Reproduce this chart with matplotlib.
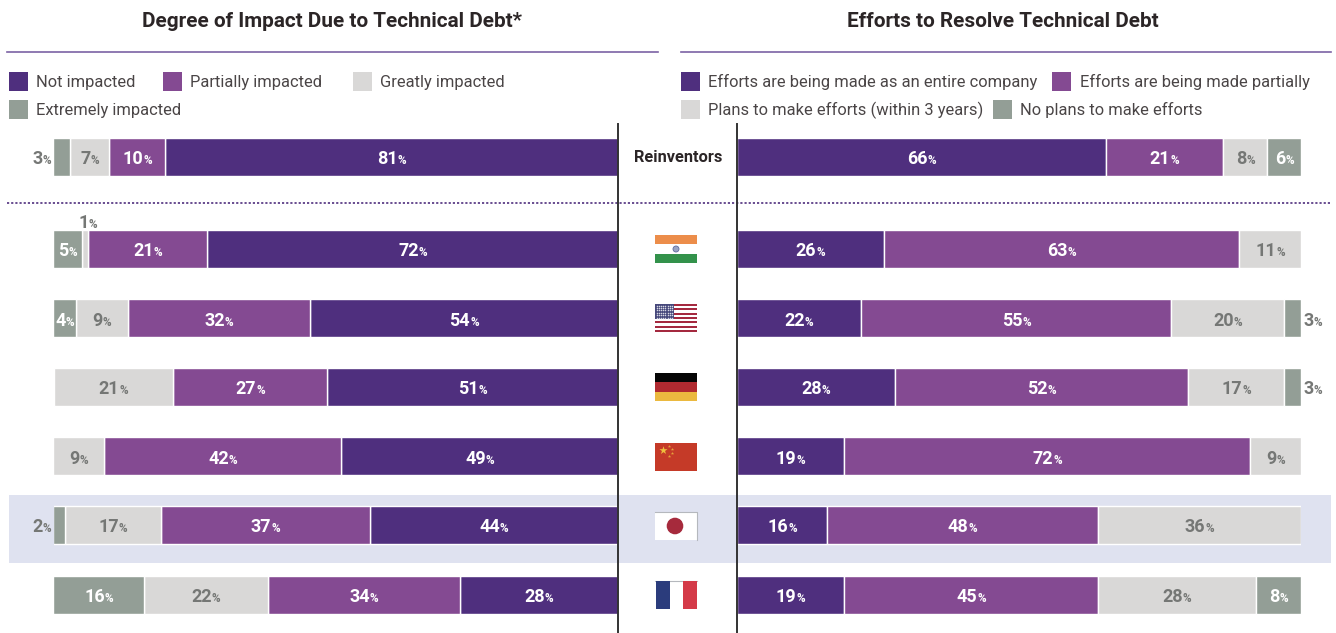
import numpy as np
import matplotlib
matplotlib.use('Agg')
import matplotlib.pyplot as plt
from matplotlib.patches import Rectangle, Circle

plt.rcParams['font.family'] = ['Roboto', 'DejaVu Sans']

W, H = 1336, 633

# Data
rows = ['Reinventors', 'India', 'USA', 'Germany', 'China', 'Japan', 'France']

impact_titles = ['Not impacted', 'Partially impacted', 'Greatly impacted', 'Extremely impacted']
not_impacted = [81, 72, 54, 51, 49, 44, 28]
partially_impacted = [10, 21, 32, 27, 42, 37, 34]
greatly_impacted = [7, 1, 9, 21, 9, 17, 22]
extremely_impacted = [3, 5, 4, 0, 0, 2, 16]

effort_titles = ['Efforts are being made as an entire company', 'Efforts are being made partially',
                 'Plans to make efforts (within 3 years)', 'No plans to make efforts']
efforts_company = [66, 26, 22, 28, 19, 16, 19]
efforts_partial = [21, 63, 55, 52, 72, 48, 45]
efforts_planned = [8, 11, 20, 17, 9, 36, 28]
efforts_none = [6, 0, 3, 3, 0, 0, 8]

# Styles and layout (pixels)
DARK, MID, LIGHT, SAGE = '#4f2f7e', '#844a92', '#d9d8d7', '#939e96'
colors = [DARK, MID, LIGHT, SAGE]
TEXT = '#2b2526'
GREY = '#757775'
RULE = '#7c62a4'
row_y = [157, 249, 318, 387, 456, 525, 595]
BAR_H = 38

fig = plt.figure(figsize=(W / 100, H / 100), dpi=100)
renderer = fig.canvas.get_renderer()

# pixel canvas for rules, legends and flags
bg = fig.add_axes([0, 0, 1, 1], zorder=0)
bg.set_xlim(0, W)
bg.set_ylim(H, 0)
bg.axis('off')

left = fig.add_axes([53.5 / W, 0, 564.5 / W, 1], zorder=1)
left.set_xlim(100, 0)
right = fig.add_axes([737 / W, 0, 564 / W, 1], zorder=1)
right.set_xlim(0, 100)
for ax in (left, right):
    ax.set_ylim(H, 0)
    ax.axis('off')


def pct_label(ax, x, y, value, color, anchor='center', dx=0, dy=0):
    # big number with a small % sign, sitting on one baseline
    num = ax.annotate(str(value), (x, y), xytext=(0, 0), textcoords='offset points',
                      fontsize=13, fontweight='bold', color=color, ha='left', va='baseline',
                      annotation_clip=False, zorder=5)
    pct = ax.annotate('%', (x, y), xytext=(0, 0), textcoords='offset points',
                      fontsize=8.5, fontweight='bold', color=color, ha='left', va='baseline',
                      annotation_clip=False, zorder=5)
    w_num = num.get_window_extent(renderer).width
    w_pct = pct.get_window_extent(renderer).width
    total = w_num + w_pct
    start = {'center': -total / 2, 'right': -total, 'left': 0}[anchor] + dx
    off_y = -(7.5 + dy) * 0.72
    num.set_position((start * 0.72, off_y))
    pct.set_position(((start + w_num) * 0.72, off_y))


def stacked(ax, series, outside_dir):
    series = np.array(series, dtype=float)
    totals = series.sum(axis=0)
    shares = series / totals * 100
    starts = np.zeros(len(rows))
    for k in range(4):
        mask = series[k] > 0
        ax.barh(np.array(row_y)[mask], shares[k][mask], left=starts[mask], height=BAR_H,
                color=colors[k], edgecolor='white', linewidth=1, zorder=2)
        for i in np.where(mask)[0]:
            val = int(series[k][i])
            mid = starts[i] + shares[k][i] / 2
            if val == 1:
                pct_label(ax, mid, row_y[i], val, GREY, dy=-28, dx=3)
            elif val <= 3:
                # too thin, goes past the end of the bar
                end = starts[i] + shares[k][i]
                pct_label(ax, end, row_y[i], val, GREY,
                          anchor='right' if outside_dir < 0 else 'left', dx=2 * outside_dir)
            else:
                c = GREY if k == 2 else 'white'
                pct_label(ax, mid, row_y[i], val, c)
        starts += shares[k]


stacked(left, [not_impacted, partially_impacted, greatly_impacted, extremely_impacted], -1)
stacked(right, [efforts_company, efforts_partial, efforts_planned, efforts_none], 1)

# titles and rules
bg.text(332.5, 21.5, 'Degree of Impact Due to Technical Debt*', fontsize=14.95, fontweight='bold',
        color=TEXT, ha='center', va='center')
bg.text(1002.5, 21.5, 'Efforts to Resolve Technical Debt', fontsize=14.95, fontweight='bold',
        color=TEXT, ha='center', va='center')
bg.plot([7, 658], [52, 52], color=RULE, lw=1.2)
bg.plot([681, 1331], [52, 52], color=RULE, lw=1.2)

# legends
impact_pos = [(9, 72), (163, 72), (353, 72), (9, 100)]
effort_pos = [(681, 72), (1052, 72), (681, 100), (993, 100)]
for titles, pos in ((impact_titles, impact_pos), (effort_titles, effort_pos)):
    for name, col, (x, y) in zip(titles, colors, pos):
        bg.add_patch(Rectangle((x, y), 19, 19, color=col, lw=0))
        bg.text(x + 27.5, y + 10, name, fontsize=11.85, color='#4a4546', ha='left', va='center')

# Japan highlight band and the dotted divider
bg.add_patch(Rectangle((9, 495), 1322, 68, color='#dfe2f0', lw=0, zorder=0))
bg.plot([7, 1331], [203, 203], color=DARK, lw=1.2, dashes=(1.3, 1.2), zorder=6)

# centre column
left.plot([0, 0], [124, H], color='#333333', lw=1.4, zorder=4, clip_on=False)
right.plot([0, 0], [124, H], color='#333333', lw=1.4, zorder=4, clip_on=False)
bg.text(678, 157.5, rows[0], fontsize=11.8, fontweight='bold', color=TEXT, ha='center', va='center')


def flag(name, y):
    x0, w, h = 655, 42, 28
    if name == 'India':
        for j, c in enumerate(['#ec8d4a', 'white', '#33924b']):
            bg.add_patch(Rectangle((x0, y + j * h / 3), w, h / 3, color=c, lw=0))
        bg.add_patch(Circle((x0 + w / 2, y + h / 2), 3, fc='#9aa3c4', ec='#5d6a9c', lw=0.6))
    elif name == 'USA':
        for j in range(13):
            c = '#a4293f' if j % 2 == 0 else 'white'
            bg.add_patch(Rectangle((x0, y + j * h / 13), w, h / 13, color=c, lw=0))
        bg.add_patch(Rectangle((x0, y), 18.5, h * 7 / 13, color='#47497c', lw=0))
        sx, sy = np.meshgrid(np.linspace(x0 + 1.5, x0 + 17, 8), np.linspace(y + 1.5, y + h * 7 / 13 - 1.5, 6))
        bg.scatter(sx, sy, s=1.2, color='#d5d6e2', lw=0, zorder=3)
    elif name == 'Germany':
        for j, c in enumerate(['#050505', '#b02a30', '#ebb93f']):
            bg.add_patch(Rectangle((x0, y + j * h / 3), w, h / 3, color=c, lw=0))
    elif name == 'China':
        bg.add_patch(Rectangle((x0, y), w, h, color='#c53a28', lw=0))
        bg.scatter([x0 + 7.5], [y + 7], s=38, marker='*', color='#eec03d', lw=0, zorder=3)
        bg.scatter(np.array([14, 17, 17, 14]) + x0, np.array([3, 6, 10, 12.5]) + y, s=6, marker='*',
                   color='#e6a23a', lw=0, zorder=3)
    elif name == 'Japan':
        bg.add_patch(Rectangle((x0, y), w, h, fc='white', lw=0))
        bg.plot([x0, x0 + w, x0 + w], [y, y, y + h], color='#b5b8bd', lw=0.8)
        bg.add_patch(Circle((x0 + w / 2 - 1, y + h / 2), 8.3, color='#a62a3c', lw=0, zorder=3))
    elif name == 'France':
        bg.add_patch(Rectangle((x0, y), w, h, fc='white', lw=0))
        bg.plot([x0, x0 + w], [y, y], color='#b5b8bd', lw=0.8)
        bg.add_patch(Rectangle((x0 + 1, y), 14, h, color='#2b3c7c', lw=0, zorder=3))
        bg.add_patch(Rectangle((x0 + 28, y), 14, h, color='#d43a48', lw=0, zorder=3))


for name, y in zip(rows[1:], [235, 304, 373, 443, 512, 581]):
    flag(name, y)

fig.savefig('out.png', dpi=100)
